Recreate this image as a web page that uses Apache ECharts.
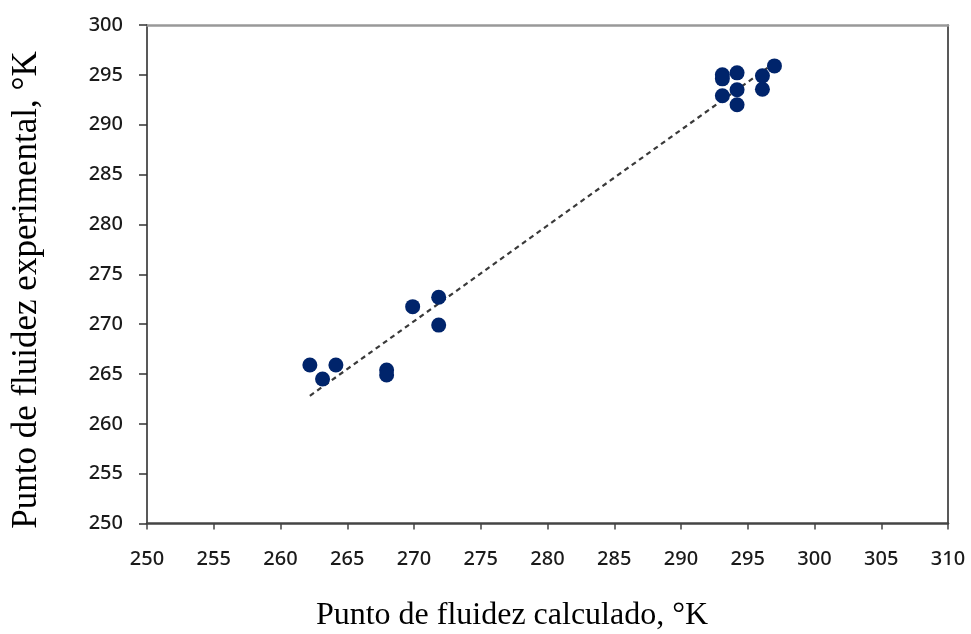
<!DOCTYPE html>
<html>
<head>
<meta charset="utf-8">
<script src="https://cdn.jsdelivr.net/npm/echarts@6/dist/echarts.min.js"></script>
<style>html,body{margin:0;padding:0;background:#fff;}#c{width:971px;height:634px;}</style>
</head>
<body>
<div id="c"></div>
<script>
var calcX = [293.1, 293.1, 294.2, 293.1, 294.2, 294.2, 296.1, 296.1, 297.0,
             262.2, 263.15, 264.15, 267.95, 267.95, 269.9, 271.85, 271.85];
var expY  = [295.0, 294.6, 295.2, 292.9, 293.5, 292.0, 294.9, 293.55, 295.9,
             265.9, 264.5, 265.9, 265.4, 264.9, 271.75, 272.7, 269.9];
var trendX = [262.2, 297.0];
var trendY = [262.8, 296.2];
var xTicks = [250, 310, 5];
var yTicks = [250, 300, 5];
var xTitle = 'Punto de fluidez calculado, °K';
var yTitle = 'Punto de fluidez experimental, °K';

var pts = calcX.map(function(v, i){ return [v, expY[i]]; });
var trend = trendX.map(function(v, i){ return [v, trendY[i]]; });

var chart = echarts.init(document.getElementById('c'));
var labelStyle = {fontFamily: 'Noto Sans', fontSize: 20, fontWeight: 500, color: '#1a1a1a'};
chart.setOption({
  animation: false,
  grid: {left: 147, right: 23, top: 25, bottom: 110.5, containLabel: false},
  graphic: [{
    type: 'text', x: 512, y: 616,
    style: {text: xTitle, font: '32px "Liberation Serif"', fill: '#000',
            align: 'center', verticalAlign: 'middle'}
  }, {
    type: 'text', rotation: Math.PI / 2, x: 27, y: 290,
    style: {text: yTitle, font: '35px "Liberation Serif"', fill: '#000',
            align: 'center', verticalAlign: 'middle'}
  }],
  xAxis: [{
    type: 'value', min: xTicks[0], max: xTicks[1], interval: xTicks[2],
    axisLine: {show: true, lineStyle: {color: '#444', width: 2.5}},
    axisTick: {show: true, length: 6, lineStyle: {color: '#444', width: 1.5}},
    axisLabel: Object.assign({margin: 26}, labelStyle),
    splitLine: {show: false}
  }, {
    type: 'value', position: 'top', min: xTicks[0], max: xTicks[1],
    axisLine: {show: true, lineStyle: {color: '#999', width: 2.5}},
    axisTick: {show: false}, axisLabel: {show: false}, splitLine: {show: false}
  }],
  yAxis: [{
    type: 'value', min: yTicks[0], max: yTicks[1], interval: yTicks[2],
    axisLine: {show: true, lineStyle: {color: '#222', width: 1.5}},
    axisTick: {show: true, length: 8, lineStyle: {color: '#333', width: 1.5}},
    axisLabel: Object.assign({margin: 24}, labelStyle),
    splitLine: {show: false}
  }, {
    type: 'value', position: 'right', min: yTicks[0], max: yTicks[1],
    axisLine: {show: true, lineStyle: {color: '#222', width: 1.5}},
    axisTick: {show: false}, axisLabel: {show: false}, splitLine: {show: false}
  }],
  series: [{
    type: 'line', data: trend, showSymbol: false, symbol: 'none',
    lineStyle: {color: '#3a3a3a', width: 2.2, type: [5, 4]}, z: 2
  }, {
    type: 'scatter', data: pts, symbol: 'circle', symbolSize: 15,
    itemStyle: {color: '#00246b', opacity: 1}, z: 3
  }]
});
</script>
</body>
</html>
